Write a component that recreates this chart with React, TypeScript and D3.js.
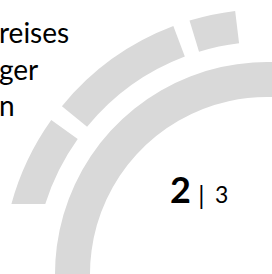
import React from "react";
import * as d3 from "d3";

// Decorative ring segments (angles in degrees, d3 convention: 0 = up, clockwise)
const outerSegmentStarts = [-17, -50.7, -100];
const outerSegmentEnds = [-6.9, -20.7, -54.5];
const bandStart = [-100];
const bandEnd = [40];
const textLines = ["reises", "ger", "n"];
const pageCurrent = "2";
const pageTotal = "3";

const W = 272;
const H = 274;
const CX = 267;
const CY = 274;
const GRAY = "#d9d9d9";

export default function App() {
  const rad = (d: number) => (d * Math.PI) / 180;
  const outerArc = d3.arc<any>().innerRadius(232.5).outerRadius(265);
  const bandArc = d3.arc<any>().innerRadius(177).outerRadius(212);
  const lineY = d3.scalePoint<number>().domain(d3.range(textLines.length)).range([43, 116]);

  return (
    <svg
      width={W}
      height={H}
      style={{ position: "fixed", left: 0, top: 0, background: "#fff" }}
      fontFamily="Lato, 'Open Sans', sans-serif"
    >
      <defs>
        <clipPath id="cut">
          <rect x={0} y={0} width={W} height={204} />
        </clipPath>
      </defs>
      <rect x={0} y={0} width={W} height={H} fill="#fff" />
      <g transform={`translate(${CX},${CY})`}>
        {bandStart.map((s, i) => (
          <path
            key={"b" + i}
            d={bandArc({ startAngle: rad(s), endAngle: rad(bandEnd[i]) }) || ""}
            fill={GRAY}
          />
        ))}
      </g>
      <g clipPath="url(#cut)">
        <g transform={`translate(${CX},${CY})`}>
          {outerSegmentStarts.map((s, i) => (
            <path
              key={"o" + i}
              d={outerArc({ startAngle: rad(s), endAngle: rad(outerSegmentEnds[i]) }) || ""}
              fill={GRAY}
            />
          ))}
        </g>
      </g>
      {textLines.map((t, i) => (
        <text key={t} x={-1} y={lineY(i)} fontSize={28} fill="#000">
          {t}
        </text>
      ))}
      <text x={170} y={203} fontSize={36} fontWeight="bold" fill="#000">
        {pageCurrent}
      </text>
      <text x={201.5} y={205} fontSize={25} textAnchor="middle" fill="#000">
        |
      </text>
      <text x={215} y={203} fontSize={23} fill="#000">
        {pageTotal}
      </text>
    </svg>
  );
}
